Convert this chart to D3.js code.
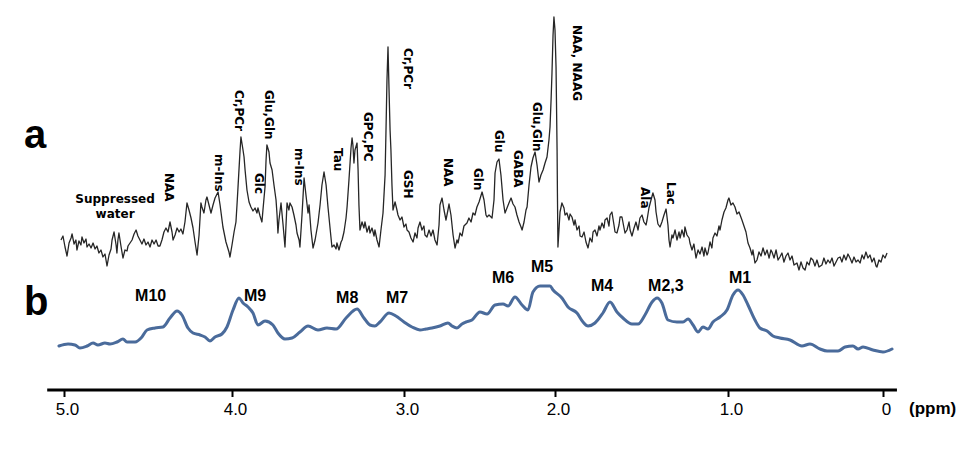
<html>
<head>
<meta charset="utf-8">
<title>MR spectrum with macromolecule baseline</title>
<style>
  body { margin: 0; background: #fff; }
  svg { display: block; }
  .metab { font-family: "DejaVu Sans", Verdana, sans-serif; font-weight: bold; font-size: 12px; fill: #000; }
  .mm { font-family: "Liberation Sans", Arial, sans-serif; font-weight: bold; font-size: 16px; fill: #000; }
  .panel { font-family: "Liberation Sans", Arial, sans-serif; font-weight: bold; font-size: 40px; fill: #000; }
  .axis text { font-family: "Liberation Sans", Arial, sans-serif; font-size: 17px; fill: #000; }
  .axis line { stroke: #000; stroke-width: 2px; }
</style>
</head>
<body>
<svg class="chart" width="965" height="449"></svg>
<script src="https://cdn.jsdelivr.net/npm/d3@7/dist/d3.min.js"></script>
<script>

// (a) in vivo spectrum: [ppm, intensity a.u.]
var spectrumA = [
  [5.018,30],[5.006,34],[4.994,23],[4.982,14],[4.970,27],[4.958,32],[4.952,36],[4.940,26],[4.929,30],[4.923,20],
  [4.911,29],[4.899,25],[4.893,33],[4.881,27],[4.869,31],[4.863,23],[4.851,26],[4.839,22],[4.827,27],[4.815,21],
  [4.804,24],[4.792,17],[4.780,20],[4.768,13],[4.756,16],[4.744,4],[4.732,15],[4.720,21],[4.714,30],[4.702,38],
  [4.690,25],[4.685,17],[4.679,30],[4.673,37],[4.661,24],[4.649,12],[4.637,20],[4.625,19],[4.619,24],[4.607,27],
  [4.595,30],[4.583,36],[4.571,40],[4.560,34],[4.548,30],[4.536,26],[4.524,31],[4.512,25],[4.500,28],[4.488,23],
  [4.476,30],[4.464,26],[4.452,30],[4.440,24],[4.429,24],[4.417,30],[4.405,38],[4.393,42],[4.381,38],[4.369,48],
  [4.357,38],[4.351,30],[4.339,35],[4.327,42],[4.315,38],[4.304,41],[4.292,36],[4.280,48],[4.268,67],[4.256,60],
  [4.244,52],[4.232,42],[4.220,28],[4.208,15],[4.196,35],[4.185,67],[4.179,63],[4.167,57],[4.155,70],[4.149,73],
  [4.137,65],[4.125,57],[4.113,65],[4.101,72],[4.083,78],[4.071,65],[4.054,43],[4.036,28],[4.018,18],[4.012,13],
  [4.000,25],[3.988,38],[3.977,48],[3.971,65],[3.965,83],[3.953,120],[3.948,133],[3.936,120],[3.930,113],[3.924,100],
  [3.913,80],[3.901,68],[3.890,63],[3.878,59],[3.866,62],[3.855,57],[3.849,62],[3.837,54],[3.826,48],[3.820,60],
  [3.808,83],[3.802,110],[3.797,125],[3.785,118],[3.779,107],[3.767,100],[3.756,85],[3.744,70],[3.738,55],[3.733,37],
  [3.727,50],[3.715,67],[3.703,45],[3.692,23],[3.686,45],[3.680,67],[3.669,60],[3.663,67],[3.651,63],[3.640,55],
  [3.628,45],[3.622,37],[3.610,30],[3.605,23],[3.593,55],[3.581,92],[3.570,75],[3.558,57],[3.552,65],[3.541,40],
  [3.529,22],[3.517,30],[3.500,47],[3.488,65],[3.477,85],[3.465,98],[3.453,85],[3.442,63],[3.430,42],[3.419,23],
  [3.407,25],[3.395,21],[3.390,27],[3.378,20],[3.366,28],[3.360,30],[3.349,38],[3.337,52],[3.331,63],[3.320,90],
  [3.308,122],[3.302,132],[3.297,125],[3.291,107],[3.285,120],[3.273,127],[3.267,100],[3.262,65],[3.256,40],[3.244,48],
  [3.233,42],[3.227,48],[3.215,38],[3.203,44],[3.198,37],[3.186,42],[3.174,34],[3.169,40],[3.157,30],[3.145,23],
  [3.134,40],[3.122,57],[3.110,95],[3.105,137],[3.099,190],[3.093,223],[3.087,180],[3.081,140],[3.076,120],[3.070,85],
  [3.064,60],[3.052,68],[3.041,60],[3.035,55],[3.023,50],[3.012,53],[3.000,43],[2.987,46],[2.980,40],[2.967,38],
  [2.954,32],[2.940,28],[2.927,37],[2.914,32],[2.907,42],[2.894,48],[2.881,40],[2.868,44],[2.861,35],[2.848,33],
  [2.834,40],[2.821,34],[2.808,40],[2.795,30],[2.781,25],[2.768,45],[2.762,65],[2.748,72],[2.735,60],[2.722,50],
  [2.709,60],[2.702,66],[2.689,55],[2.675,35],[2.662,22],[2.649,30],[2.642,27],[2.629,37],[2.616,34],[2.603,44],
  [2.583,47],[2.570,52],[2.556,48],[2.543,57],[2.530,55],[2.517,63],[2.503,68],[2.483,78],[2.470,70],[2.457,55],
  [2.450,53],[2.437,55],[2.417,52],[2.404,70],[2.397,97],[2.384,108],[2.371,111],[2.358,95],[2.344,70],[2.331,57],
  [2.318,62],[2.305,67],[2.291,72],[2.278,66],[2.265,63],[2.252,55],[2.238,48],[2.225,43],[2.218,40],[2.205,48],
  [2.192,60],[2.185,63],[2.172,85],[2.159,103],[2.146,112],[2.132,118],[2.119,105],[2.106,88],[2.093,95],[2.079,100],
  [2.066,107],[2.053,113],[2.040,130],[2.033,143],[2.026,170],[2.020,197],[2.013,235],[2.007,253],[2.000,240],[1.994,203],
  [1.988,120],[1.986,77],[1.983,23],[1.977,40],[1.971,58],[1.960,67],[1.948,62],[1.942,55],[1.931,57],[1.919,50],
  [1.913,56],[1.902,53],[1.890,45],[1.884,50],[1.873,40],[1.861,44],[1.855,34],[1.844,33],[1.832,38],[1.821,28],
  [1.809,22],[1.798,32],[1.786,28],[1.780,38],[1.769,40],[1.757,34],[1.746,44],[1.740,40],[1.728,47],[1.717,42],
  [1.711,50],[1.699,52],[1.688,44],[1.682,55],[1.671,58],[1.659,45],[1.653,38],[1.642,37],[1.630,45],[1.624,53],
  [1.613,53],[1.601,42],[1.595,37],[1.584,40],[1.572,48],[1.566,40],[1.555,34],[1.543,42],[1.532,48],[1.520,40],
  [1.509,52],[1.497,55],[1.486,48],[1.474,45],[1.468,50],[1.457,62],[1.445,70],[1.434,77],[1.422,70],[1.416,58],
  [1.405,46],[1.393,43],[1.382,48],[1.370,55],[1.358,61],[1.347,45],[1.341,30],[1.335,23],[1.324,35],[1.318,32],
  [1.306,40],[1.295,30],[1.283,38],[1.277,32],[1.266,40],[1.254,33],[1.249,43],[1.237,35],[1.225,32],[1.220,27],
  [1.208,20],[1.197,26],[1.185,12],[1.173,20],[1.162,16],[1.150,23],[1.139,14],[1.133,22],[1.121,15],[1.116,17],
  [1.104,28],[1.093,22],[1.087,32],[1.075,37],[1.064,34],[1.052,44],[1.046,40],[1.035,50],[1.023,58],[1.012,62],
  [1.000,70],[0.994,72],[0.981,65],[0.968,67],[0.955,63],[0.942,56],[0.929,58],[0.910,50],[0.897,44],[0.884,38],
  [0.871,27],[0.858,22],[0.845,15],[0.839,20],[0.826,7],[0.813,10],[0.800,18],[0.787,14],[0.774,22],[0.761,15],
  [0.748,20],[0.735,12],[0.723,20],[0.716,18],[0.703,12],[0.690,20],[0.677,10],[0.665,13],[0.652,17],[0.639,8],
  [0.626,14],[0.613,17],[0.600,10],[0.587,14],[0.574,5],[0.555,7],[0.542,0],[0.529,8],[0.516,2],[0.503,0],
  [0.490,8],[0.477,5],[0.465,12],[0.452,10],[0.439,4],[0.426,10],[0.413,3],[0.394,5],[0.381,12],[0.368,6],
  [0.355,10],[0.342,7],[0.329,12],[0.316,4],[0.303,8],[0.290,12],[0.277,13],[0.265,8],[0.252,15],[0.239,10],
  [0.226,16],[0.213,12],[0.200,7],[0.187,13],[0.174,8],[0.161,10],[0.148,7],[0.135,15],[0.123,11],[0.110,18],
  [0.097,12],[0.084,15],[0.071,8],[0.058,12],[0.045,4],[0.039,3],[0.026,10],[0.013,8],[0.000,15],[-0.013,12],
  [-0.026,17]
];

// (b) macromolecule spectrum: [ppm, intensity a.u.]
var spectrumB = [
  [5.030,14],[4.976,16],[4.935,15],[4.905,12],[4.863,14],[4.827,17],[4.798,15],[4.756,17],[4.726,16],[4.685,18],
  [4.649,21],[4.625,18],[4.577,18],[4.536,23],[4.506,30],[4.458,32],[4.411,33],[4.369,42],[4.327,49],[4.298,45],
  [4.262,32],[4.232,27],[4.190,25],[4.161,23],[4.131,19],[4.101,23],[4.060,26],[4.030,33],[3.994,50],[3.959,62],
  [3.936,57],[3.907,53],[3.878,47],[3.849,35],[3.808,39],[3.762,35],[3.733,27],[3.692,21],[3.651,22],[3.605,28],
  [3.558,34],[3.500,30],[3.448,32],[3.395,31],[3.337,42],[3.273,51],[3.233,42],[3.198,35],[3.169,34],[3.140,38],
  [3.087,47],[3.047,44],[3.000,38],[2.947,33],[2.894,30],[2.854,31],[2.815,32],[2.762,34],[2.709,37],[2.682,34],
  [2.649,32],[2.616,36],[2.589,38],[2.550,40],[2.497,48],[2.450,46],[2.397,55],[2.344,56],[2.311,54],[2.265,63],
  [2.218,55],[2.179,50],[2.146,68],[2.099,74],[2.033,74],[2.013,70],[1.960,62],[1.925,53],[1.873,47],[1.838,38],
  [1.809,34],[1.769,37],[1.723,47],[1.682,58],[1.642,48],[1.607,42],[1.555,36],[1.520,36],[1.480,45],[1.439,58],
  [1.410,62],[1.382,57],[1.347,40],[1.295,38],[1.260,38],[1.231,41],[1.202,35],[1.173,28],[1.145,33],[1.116,31],
  [1.087,38],[1.046,43],[1.006,50],[0.968,65],[0.935,70],[0.903,65],[0.871,55],[0.826,40],[0.794,32],[0.748,29],
  [0.710,24],[0.665,22],[0.600,20],[0.523,14],[0.471,16],[0.406,11],[0.361,9],[0.290,9],[0.245,13],[0.194,14],
  [0.161,11],[0.129,13],[0.065,10],[0.000,8],[-0.058,11]
];

// ppm axis (printed ticks are not evenly spaced on the original figure)
var tickPpm = [5, 4, 3, 2, 1, 0];
var tickLabels = ["5.0", "4.0", "3.0", "2.0", "1.0", "0"];
var tickPixels = [64, 232, 404, 555, 728, 883];

// metabolite labels for (a)
var metabNames = ["NAA", "m-Ins", "Cr,PCr", "Glc", "Glu,Gln", "m-Ins", "Tau", "GPC,PC", "Cr,PCr", "GSH",
                  "NAA", "Gln", "Glu", "GABA", "Glu,Gln", "NAA, NAAG", "Ala", "Lac"];
var metabPpm   = [4.399, 4.101, 3.983, 3.866, 3.808, 3.634, 3.407, 3.233, 3.000, 3.000,
                  2.735, 2.536, 2.397, 2.271, 2.146, 1.896, 1.503, 1.353];
var metabAmp   = [97, 116, 180, 97, 180, 122, 122, 158, 222, 100,
                  112, 102, 140, 120, 168, 245, 83, 88];

// macromolecule labels for (b)
var mmNames = ["M10", "M9", "M8", "M7", "M6", "M5", "M4", "M2,3", "M1"];
var mmPpm   = [4.577, 3.930, 3.395, 3.105, 2.417, 2.159, 1.792, 1.462, 0.994];
var mmAmp   = [59, 59, 57, 57, 77, 88, 69, 69, 77];

var width = 965;
var height = 449;

var chart = d3.select('.chart')
    .attr('width', width)
    .attr('height', height);

chart.append('rect').attr('width', width).attr('height', height).attr('fill', '#fff');

var xScale = d3.scaleLinear()
    .domain(tickPpm)
    .range(tickPixels);

var yA = d3.scaleLinear().domain([0, 250]).range([270, 20]);
var yB = d3.scaleLinear().domain([0, 100]).range([360, 260]);

var lineA = d3.line()
    .x(function(d) { return xScale(d[0]); })
    .y(function(d) { return yA(d[1]); });

var lineB = d3.line()
    .curve(d3.curveMonotoneX)
    .x(function(d) { return xScale(d[0]); })
    .y(function(d) { return yB(d[1]); });

chart.append('path')
    .datum(spectrumA)
    .attr('d', lineA)
    .attr('fill', 'none')
    .attr('stroke', '#262626')
    .attr('stroke-width', 1.3)
    .attr('stroke-linejoin', 'round');

chart.append('path')
    .datum(spectrumB)
    .attr('d', lineB)
    .attr('fill', 'none')
    .attr('stroke', '#4a6b9b')
    .attr('stroke-width', 3)
    .attr('stroke-linejoin', 'round')
    .attr('stroke-linecap', 'round');

// metabolite labels, rotated to read top-down
chart.selectAll('.metab')
    .data(metabNames)
    .enter()
    .append('text')
    .attr('class', 'metab')
    .attr('transform', function(d, i) {
        return 'translate(' + xScale(metabPpm[i]) + ',' + yA(metabAmp[i]) + ') rotate(90)';
    })
    .text(function(d) { return d; });

var water = chart.append('text')
    .attr('class', 'metab')
    .attr('text-anchor', 'middle')
    .attr('x', xScale(4.696))
    .attr('y', yA(67));
water.append('tspan').text('Suppressed');
water.append('tspan').attr('x', xScale(4.696)).attr('dy', 15).text('water');

chart.selectAll('.mm')
    .data(mmNames)
    .enter()
    .append('text')
    .attr('class', 'mm')
    .attr('x', function(d, i) { return xScale(mmPpm[i]); })
    .attr('y', function(d, i) { return yB(mmAmp[i]); })
    .text(function(d) { return d; });

chart.append('text').attr('class', 'panel').attr('x', 24).attr('y', 148).text('a');
chart.append('text').attr('class', 'panel').attr('x', 24).attr('y', 315).text('b');

// axis
var axisY = 390;
var axis = d3.axisBottom(xScale)
    .tickValues(tickPpm)
    .tickSize(7)
    .tickPadding(6)
    .tickFormat(function(d, i) { return tickLabels[i]; });

var gAxis = chart.append('g')
    .attr('class', 'axis')
    .attr('transform', 'translate(0,' + axisY + ')')
    .call(axis);
gAxis.select('.domain').remove();
gAxis.selectAll('text').attr('dx', 3).attr('font-size', 17).attr('font-family', '"Liberation Sans", Arial, sans-serif');

chart.append('line')
    .attr('x1', xScale(5.1)).attr('x2', xScale(-0.09))
    .attr('y1', axisY).attr('y2', axisY)
    .attr('stroke', '#000')
    .attr('stroke-width', 3);

chart.append('text')
    .attr('x', 909)
    .attr('y', 414)
    .attr('font-family', '"Liberation Sans", Arial, sans-serif')
    .attr('font-weight', 'bold')
    .attr('font-size', 17)
    .text('(ppm)');

</script>
</body>
</html>
